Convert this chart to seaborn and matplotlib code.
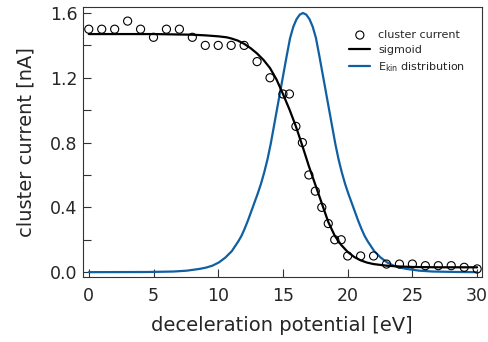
import numpy as np
import pandas as pd
import seaborn as sns
import matplotlib.pyplot as plt
from matplotlib.ticker import MultipleLocator

# measured cluster current vs deceleration potential
potential = [0, 1, 2, 3, 4, 5, 6, 7, 8, 9, 10, 11, 12, 13, 14, 15, 15.5,
             16, 16.5, 17, 17.5, 18, 18.5, 19, 19.5, 20, 21, 22, 23, 24,
             25, 26, 27, 28, 29, 30]
current = [1.50, 1.50, 1.50, 1.55, 1.50, 1.45, 1.50, 1.50, 1.45, 1.40,
           1.40, 1.40, 1.40, 1.30, 1.20, 1.10, 1.10, 0.90, 0.80, 0.60,
           0.50, 0.40, 0.30, 0.20, 0.20, 0.10, 0.10, 0.10, 0.05, 0.05,
           0.05, 0.04, 0.04, 0.04, 0.03, 0.02]

# sigmoid fit
sig_x = [0, 5, 8, 9, 10, 10.65, 11, 11.5, 12, 12.5, 13, 13.5, 14, 14.5,
         15, 15.5, 16, 16.5, 17, 17.5, 18, 18.5, 19, 19.5, 20, 20.5, 21,
         21.5, 22, 23, 24, 25, 27, 30]
sig_y = [1.470, 1.470, 1.466, 1.462, 1.456, 1.450, 1.443, 1.430, 1.410,
         1.383, 1.350, 1.310, 1.260, 1.190, 1.100, 1.005, 0.900, 0.780,
         0.655, 0.540, 0.425, 0.310, 0.225, 0.168, 0.125, 0.094, 0.073,
         0.059, 0.050, 0.040, 0.035, 0.032, 0.030, 0.030]

# kinetic energy distribution
ekin_x = [0, 4.55, 6.55, 7.55, 8.55, 9.05, 9.55, 10.05, 10.55, 11.05,
          11.55, 11.8, 12.05, 12.3, 12.55, 12.8, 13.05, 13.3, 13.55, 13.8,
          14.05, 14.3, 14.55, 14.8, 15.05, 15.3, 15.55, 15.8, 16.05, 16.3,
          16.55, 16.8, 17.05, 17.3, 17.55, 17.8, 18.05, 18.3, 18.55, 18.8,
          19.05, 19.3, 19.55, 19.8, 20.05, 20.3, 20.55, 20.8, 21.05, 21.3,
          21.55, 22.05, 22.55, 23.05, 23.55, 24.05, 24.55, 25.55, 26.55,
          28.55, 30]
ekin_y = [0.0, 0.001, 0.004, 0.009, 0.020, 0.028, 0.040, 0.060, 0.090,
          0.130, 0.190, 0.225, 0.270, 0.320, 0.375, 0.430, 0.485, 0.545,
          0.615, 0.695, 0.790, 0.900, 1.010, 1.120, 1.230, 1.340, 1.445,
          1.515, 1.562, 1.590, 1.600, 1.590, 1.562, 1.515, 1.445, 1.340,
          1.230, 1.120, 1.010, 0.900, 0.790, 0.695, 0.615, 0.545, 0.485,
          0.430, 0.375, 0.320, 0.270, 0.225, 0.190, 0.130, 0.090, 0.060,
          0.040, 0.028, 0.020, 0.009, 0.004, 0.001, 0.0]

df_pts = pd.DataFrame({"x": potential, "y": current})
df_sig = pd.DataFrame({"x": sig_x, "y": sig_y})
df_ekin = pd.DataFrame({"x": ekin_x, "y": ekin_y})

sns.set_style("ticks")
plt.rcParams["font.family"] = ["DejaVu Sans"]

fig = plt.figure(figsize=(4.88, 3.42), dpi=100)
ax = fig.add_axes([0.170, 0.190, 0.817, 0.7895])

blue = "#0f5fa3"
sns.lineplot(data=df_ekin, x="x", y="y", ax=ax, color=blue, linewidth=1.6,
             label="E$_\\mathrm{kin}$ distribution")
sns.lineplot(data=df_sig, x="x", y="y", ax=ax, color="black", linewidth=1.6,
             label="sigmoid")
sns.scatterplot(data=df_pts, x="x", y="y", ax=ax, marker="o", s=34,
                facecolors="none", edgecolor="black", linewidth=0.8,
                label="cluster current", zorder=5)

ax.set_xlim(-0.45, 30.35)
ax.set_ylim(-0.03, 1.637)
ax.xaxis.set_major_locator(MultipleLocator(5))
ax.yaxis.set_major_locator(MultipleLocator(0.4))
ax.yaxis.set_minor_locator(MultipleLocator(0.2))
ax.yaxis.set_major_formatter(plt.FormatStrFormatter("%.1f"))
ax.tick_params(axis="both", which="major", direction="in", length=6,
               width=0.8, color="#333333", labelsize=12.5)
ax.tick_params(axis="y", which="minor", direction="in", length=6,
               width=0.8, color="#333333", left=True)
ax.tick_params(axis="x", which="minor", bottom=False)
ax.tick_params(axis="x", pad=7)
ax.tick_params(axis="y", pad=4)
for s in ax.spines.values():
    s.set_linewidth(0.8)
    s.set_color("#333333")

ax.set_xlabel("deceleration potential [eV]", fontsize=14, labelpad=8)
ax.set_ylabel("cluster current [nA]", fontsize=14, labelpad=10)

h, l = ax.get_legend_handles_labels()
order = [2, 1, 0]
ax.legend([h[i] for i in order], [l[i] for i in order], loc="upper left",
          bbox_to_anchor=(0.668, 0.915), frameon=False, fontsize=8,
          handlelength=1.9, handletextpad=0.7, labelspacing=0.45,
          borderpad=0, borderaxespad=0)

fig.savefig("out.png", dpi=100)
